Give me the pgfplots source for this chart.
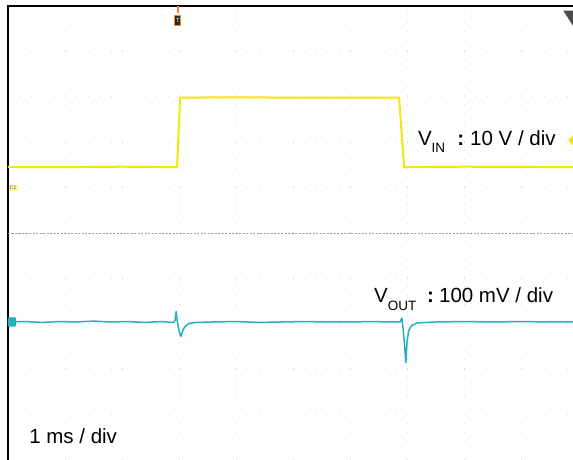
\documentclass[border=0pt]{standalone}
\usepackage{pgfplots}
\pgfplotsset{compat=1.18}
\usepackage{fontspec}
\setmainfont{Liberation Sans}
\definecolor{vin}{RGB}{242,230,10}
\definecolor{vout}{RGB}{34,178,190}
\definecolor{trig}{RGB}{240,140,30}
\newcommand{\sub}[1]{\raisebox{-7.5pt}{\fontsize{13.5}{14}\selectfont #1}}
\begin{document}
\begin{tikzpicture}[x=1pt,y=1pt]
\begin{axis}[
  at={(8pt,453pt)}, anchor=north west,
  scale only axis, width=570pt, height=454pt,
  xmin=0, xmax=10, ymin=-5, ymax=5,
  axis line style={draw=none},
  xtick={1,...,9}, ytick={-4,...,4},
  xticklabels={}, yticklabels={},
  major tick length=0pt,
  xmajorgrids, ymajorgrids,
  x grid style={gray!28, line width=0.8pt, dash pattern=on 0.8pt off 8.3pt},
  y grid style={gray!28, line width=0.8pt, dash pattern=on 0.8pt off 10.6pt},
  clip=false,
]
% border (left and top)
\draw[black, line width=2.6pt] (rel axis cs:0,-0.01) -- (rel axis cs:0,1) -- (rel axis cs:1.02,1);
% centre dashed line
\draw[gray!75, line width=0.7pt, dash pattern=on 2.2pt off 1.3pt] (axis cs:0,0) -- (axis cs:10,0);

% V_IN trace
\addplot[vin, line width=2pt, line join=round] coordinates {
 (0,1.45) (1,1.45) (2,1.46) (2.965,1.45) (3.02,2.98) (4,2.99) (5,2.98) (6.86,2.98) (6.95,1.45) (8,1.46) (10,1.45)
};

% V_OUT trace
\addplot[vout, line width=1.5pt, line join=round] coordinates {
 (0,-1.96) (0.3,-1.95) (0.6,-1.97) (0.9,-1.95) (1.2,-1.96) (1.5,-1.94) (1.8,-1.96)
 (2.1,-1.95) (2.4,-1.97) (2.7,-1.95) (2.90,-1.97) (2.93,-1.93) (2.95,-1.73)
 (2.97,-1.95) (3.00,-2.15) (3.03,-2.28) (3.05,-2.21) (3.08,-2.11) (3.12,-2.04)
 (3.18,-1.99) (3.3,-1.97) (3.6,-1.96) (4.0,-1.95) (4.4,-1.97) (4.8,-1.96)
 (5.2,-1.95) (5.6,-1.96) (6.0,-1.96) (6.4,-1.95) (6.7,-1.96) (6.88,-1.96)
 (6.90,-1.90) (6.91,-1.87) (6.93,-2.10) (6.96,-2.50) (6.98,-2.86) (7.00,-2.40)
 (7.03,-2.15) (7.08,-2.04) (7.18,-1.98) (7.5,-1.96) (8.0,-1.95) (8.5,-1.96)
 (9.0,-1.95) (9.5,-1.96) (10,-1.96)
};

% labels
\node[anchor=base west, inner sep=0pt, font=\fontsize{20.5}{24}\selectfont] at (axis cs:7.19,1.93) {V\sub{IN}};
\node[anchor=base west, inner sep=0pt, font=\fontsize{20.5}{24}\selectfont] at (axis cs:7.88,1.93) {\textbf{:}};
\node[anchor=base west, inner sep=0pt, font=\fontsize{20.5}{24}\selectfont] at (axis cs:8.105,1.93) {10 V / div};

\node[anchor=base west, inner sep=0pt, font=\fontsize{20.5}{24}\selectfont] at (axis cs:6.42,-1.54) {V\sub{OUT}};
\node[anchor=base west, inner sep=0pt, font=\fontsize{20.5}{24}\selectfont] at (axis cs:7.35,-1.54) {\textbf{:}};
\node[anchor=base west, inner sep=0pt, font=\fontsize{20.5}{24}\selectfont] at (axis cs:7.56,-1.54) {100 mV / div};

\node[anchor=base west, inner sep=0pt, font=\fontsize{20.5}{24}\selectfont] at (axis cs:0.37,-4.64) {1 ms / div};

% scope markers
\draw[trig, line width=2pt] (axis cs:2.98,5) -- (axis cs:2.98,4.85);
\node[draw=trig, fill=black!85, text=white, line width=1pt, inner sep=0.5pt, minimum width=6pt, minimum height=10pt, font=\fontsize{6}{6}\selectfont] at (axis cs:2.98,4.68) {T};
\fill[gray!60!black] (axis cs:9.74,4.90) -- (axis cs:10.09,4.90) -- (axis cs:9.91,4.57) -- cycle;
\fill[vin] (axis cs:9.83,2.04) -- (axis cs:9.91,2.15) -- (axis cs:9.99,2.04) -- (axis cs:9.91,1.93) -- cycle;
\node[fill=vin!25, draw=vin!60, inner sep=0.8pt, font=\fontsize{5}{5}\selectfont, text=black!70] at (axis cs:0.09,0.99) {C1};
\node[fill=vout, draw=vout, inner sep=0pt, minimum width=8pt, minimum height=9pt, rounded corners=1pt] at (axis cs:0.07,-1.96) {};
\end{axis}
\pgfresetboundingbox
\path[use as bounding box] (0,0) rectangle (573,459);
\end{tikzpicture}
\end{document}
